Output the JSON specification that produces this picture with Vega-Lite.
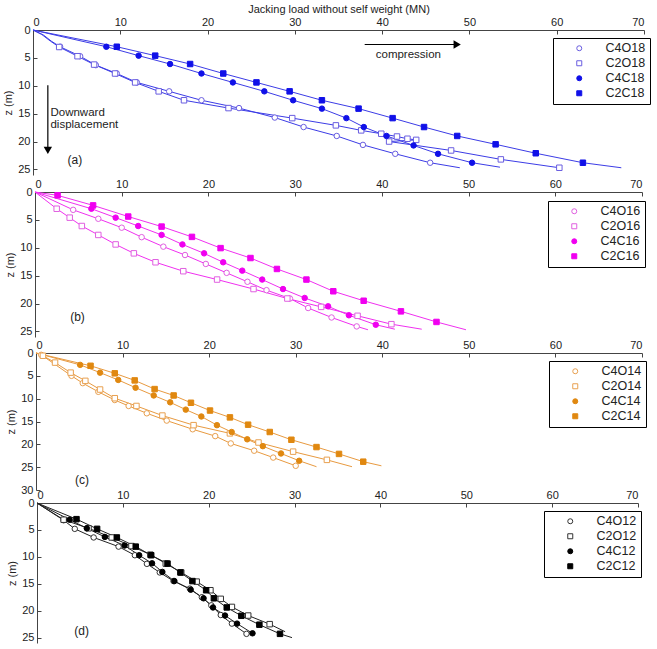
{
"$schema": "https://vega.github.io/schema/vega-lite/v6.json",
"autosize": {"type": "none"},
"width": 612, "height": 613,
"padding": {"left": 33, "top": 30, "right": 12, "bottom": 6},
"background": "white",
"config": {
  "font": "Liberation Sans",
  "view": {"stroke": null},
  "axis": {"grid": false, "labelFontSize": 11, "labelColor": "#222", "domainColor": "#444", "tickColor": "#444", "tickSize": -4, "labelPadding": 7, "labelOverlap": false, "titleFontSize": 11, "titleFontWeight": "normal", "titleColor": "#222"},
  "legend": {"orient": "none", "strokeColor": "black", "strokeWidth": 1, "fillColor": "white", "padding": 4, "labelFont": "Liberation Sans Narrow, Liberation Sans", "labelFontSize": 12.5, "symbolSize": 25, "symbolStrokeWidth": 1, "rowPadding": 2, "labelOffset": 20, "symbolOffset": 16, "labelColor": "#222"}
},
"datasets": {
  "a": [
    {"s":"C4O18","x":0,"z":0,"m":0},{"s":"C4O18","x":1.2,"z":0.9,"m":0},{"s":"C4O18","x":2.1,"z":2.0,"m":0},
    {"s":"C4O18","x":3.1,"z":3.0,"m":1},{"s":"C4O18","x":5.4,"z":4.7,"m":1},{"s":"C4O18","x":7.2,"z":6.3,"m":1},{"s":"C4O18","x":9.6,"z":7.8,"m":1},{"s":"C4O18","x":11.9,"z":9.4,"m":1},{"s":"C4O18","x":15.6,"z":11.0,"m":1},{"s":"C4O18","x":19.3,"z":12.6,"m":1},{"s":"C4O18","x":23.6,"z":14.0,"m":1},{"s":"C4O18","x":27.7,"z":15.7,"m":1},{"s":"C4O18","x":31.0,"z":17.4,"m":1},{"s":"C4O18","x":34.8,"z":19.0,"m":1},{"s":"C4O18","x":37.8,"z":20.6,"m":1},{"s":"C4O18","x":41.5,"z":22.2,"m":1},{"s":"C4O18","x":45.5,"z":23.8,"m":1},{"s":"C4O18","x":48.9,"z":24.7,"m":0},
    {"s":"C2O18","x":0,"z":0,"m":0},{"s":"C2O18","x":1.0,"z":0.8,"m":0},{"s":"C2O18","x":2.0,"z":2.0,"m":0},
    {"s":"C2O18","x":3.0,"z":3.05,"m":1},{"s":"C2O18","x":5.1,"z":4.7,"m":1},{"s":"C2O18","x":7.0,"z":6.2,"m":1},{"s":"C2O18","x":9.4,"z":7.8,"m":1},{"s":"C2O18","x":11.7,"z":9.4,"m":1},{"s":"C2O18","x":14.4,"z":11.0,"m":1},{"s":"C2O18","x":17.3,"z":12.6,"m":1},{"s":"C2O18","x":22.4,"z":14.0,"m":1},{"s":"C2O18","x":29.7,"z":15.8,"m":1},{"s":"C2O18","x":34.7,"z":17.1,"m":1},{"s":"C2O18","x":37.6,"z":18.0,"m":1},{"s":"C2O18","x":39.9,"z":18.6,"m":1},{"s":"C2O18","x":41.7,"z":19.1,"m":1},{"s":"C2O18","x":42.9,"z":19.5,"m":1},{"s":"C2O18","x":43.9,"z":19.7,"m":1},{"s":"C2O18","x":40.8,"z":20.0,"m":1},{"s":"C2O18","x":47.9,"z":21.6,"m":1},{"s":"C2O18","x":53.6,"z":23.2,"m":1},{"s":"C2O18","x":60.3,"z":24.7,"m":1},
    {"s":"C4C18","x":0,"z":0,"m":0},
    {"s":"C4C18","x":8.4,"z":3.0,"m":1},{"s":"C4C18","x":12.1,"z":4.6,"m":1},{"s":"C4C18","x":15.7,"z":6.1,"m":1},{"s":"C4C18","x":19.3,"z":7.8,"m":1},{"s":"C4C18","x":22.9,"z":9.4,"m":1},{"s":"C4C18","x":26.5,"z":11.0,"m":1},{"s":"C4C18","x":29.8,"z":12.6,"m":1},{"s":"C4C18","x":33.1,"z":14.1,"m":1},{"s":"C4C18","x":35.9,"z":15.8,"m":1},{"s":"C4C18","x":37.9,"z":17.4,"m":1},{"s":"C4C18","x":40.5,"z":19.0,"m":1},{"s":"C4C18","x":43.6,"z":20.7,"m":1},{"s":"C4C18","x":46.4,"z":22.2,"m":1},{"s":"C4C18","x":50.3,"z":23.8,"m":1},{"s":"C4C18","x":53.5,"z":24.6,"m":0},
    {"s":"C2C18","x":0,"z":0,"m":0},
    {"s":"C2C18","x":9.6,"z":3.0,"m":1},{"s":"C2C18","x":14.0,"z":4.6,"m":1},{"s":"C2C18","x":18.0,"z":6.1,"m":1},{"s":"C2C18","x":21.8,"z":7.8,"m":1},{"s":"C2C18","x":25.6,"z":9.4,"m":1},{"s":"C2C18","x":29.4,"z":11.0,"m":1},{"s":"C2C18","x":33.1,"z":12.6,"m":1},{"s":"C2C18","x":37.3,"z":14.1,"m":1},{"s":"C2C18","x":41.2,"z":15.8,"m":1},{"s":"C2C18","x":44.8,"z":17.4,"m":1},{"s":"C2C18","x":48.6,"z":19.0,"m":1},{"s":"C2C18","x":53.0,"z":20.5,"m":1},{"s":"C2C18","x":57.6,"z":22.1,"m":1},{"s":"C2C18","x":63.0,"z":23.8,"m":1},{"s":"C2C18","x":67.4,"z":24.7,"m":0}
  ],
  "b": [
    {"s":"C4O16","x":0,"z":0,"m":0},
    {"s":"C4O16","x":4.4,"z":3.2,"m":1},{"s":"C4O16","x":7.3,"z":4.8,"m":1},{"s":"C4O16","x":10.0,"z":6.4,"m":1},{"s":"C4O16","x":12.3,"z":8.1,"m":1},{"s":"C4O16","x":14.8,"z":9.8,"m":1},{"s":"C4O16","x":17.3,"z":11.3,"m":1},{"s":"C4O16","x":19.7,"z":12.9,"m":1},{"s":"C4O16","x":22.1,"z":14.5,"m":1},{"s":"C4O16","x":24.5,"z":16.1,"m":1},{"s":"C4O16","x":26.7,"z":17.6,"m":1},{"s":"C4O16","x":29.4,"z":19.1,"m":1},{"s":"C4O16","x":31.5,"z":20.8,"m":1},{"s":"C4O16","x":34.2,"z":22.5,"m":1},{"s":"C4O16","x":37.1,"z":24.1,"m":1},{"s":"C4O16","x":38.4,"z":24.7,"m":0},
    {"s":"C2O16","x":0,"z":0,"m":0},
    {"s":"C2O16","x":2.5,"z":3.0,"m":1},{"s":"C2O16","x":4.0,"z":4.6,"m":1},{"s":"C2O16","x":5.4,"z":6.1,"m":1},{"s":"C2O16","x":7.3,"z":7.7,"m":1},{"s":"C2O16","x":9.3,"z":9.4,"m":1},{"s":"C2O16","x":11.4,"z":11.0,"m":1},{"s":"C2O16","x":13.9,"z":12.6,"m":1},{"s":"C2O16","x":17.1,"z":14.2,"m":1},{"s":"C2O16","x":21.0,"z":15.7,"m":1},{"s":"C2O16","x":25.2,"z":17.4,"m":1},{"s":"C2O16","x":29.1,"z":19.1,"m":1},{"s":"C2O16","x":33.0,"z":20.6,"m":1},{"s":"C2O16","x":37.2,"z":22.2,"m":1},{"s":"C2O16","x":41.1,"z":23.7,"m":1},{"s":"C2O16","x":44.6,"z":24.6,"m":0},
    {"s":"C4C16","x":0,"z":0,"m":0},
    {"s":"C4C16","x":6.5,"z":3.0,"m":1},{"s":"C4C16","x":9.3,"z":4.6,"m":1},{"s":"C4C16","x":11.9,"z":6.1,"m":1},{"s":"C4C16","x":14.6,"z":7.7,"m":1},{"s":"C4C16","x":17.0,"z":9.4,"m":1},{"s":"C4C16","x":19.5,"z":11.0,"m":1},{"s":"C4C16","x":21.7,"z":12.6,"m":1},{"s":"C4C16","x":23.9,"z":14.1,"m":1},{"s":"C4C16","x":26.2,"z":15.7,"m":1},{"s":"C4C16","x":28.6,"z":17.4,"m":1},{"s":"C4C16","x":31.1,"z":19.0,"m":1},{"s":"C4C16","x":33.8,"z":20.5,"m":1},{"s":"C4C16","x":36.2,"z":22.1,"m":1},{"s":"C4C16","x":39.3,"z":23.8,"m":1},{"s":"C4C16","x":41.5,"z":24.6,"m":0},
    {"s":"C2C16","x":0,"z":0,"m":0},
    {"s":"C2C16","x":2.6,"z":0.6,"m":1},{"s":"C2C16","x":6.7,"z":2.4,"m":1},{"s":"C2C16","x":10.75,"z":4.4,"m":1},{"s":"C2C16","x":14.6,"z":6.2,"m":1},{"s":"C2C16","x":18.1,"z":8.05,"m":1},{"s":"C2C16","x":21.4,"z":10.06,"m":1},{"s":"C2C16","x":24.85,"z":11.84,"m":1},{"s":"C2C16","x":27.9,"z":13.8,"m":1},{"s":"C2C16","x":31.3,"z":15.7,"m":1},{"s":"C2C16","x":34.4,"z":17.8,"m":1},{"s":"C2C16","x":37.9,"z":19.5,"m":1},{"s":"C2C16","x":42.2,"z":21.4,"m":1},{"s":"C2C16","x":46.3,"z":23.3,"m":1},{"s":"C2C16","x":49.7,"z":24.7,"m":0}
  ],
  "c": [
    {"s":"C4O14","x":0,"z":0,"m":0},
    {"s":"C4O14","x":0.6,"z":0.4,"m":1},{"s":"C4O14","x":4.1,"z":5.0,"m":1},{"s":"C4O14","x":5.4,"z":6.6,"m":1},{"s":"C4O14","x":7.2,"z":8.5,"m":1},{"s":"C4O14","x":9.1,"z":10.3,"m":1},{"s":"C4O14","x":10.7,"z":11.6,"m":1},{"s":"C4O14","x":12.8,"z":13.2,"m":1},{"s":"C4O14","x":15.1,"z":14.8,"m":1},{"s":"C4O14","x":18.1,"z":16.7,"m":1},{"s":"C4O14","x":20.7,"z":18.2,"m":1},{"s":"C4O14","x":22.5,"z":19.8,"m":1},{"s":"C4O14","x":25.2,"z":21.4,"m":1},{"s":"C4O14","x":27.4,"z":22.9,"m":1},{"s":"C4O14","x":30.0,"z":24.7,"m":1},
    {"s":"C2O14","x":0,"z":0,"m":0},
    {"s":"C2O14","x":0.8,"z":0.6,"m":1},{"s":"C2O14","x":2.2,"z":2.1,"m":1},{"s":"C2O14","x":4.0,"z":4.3,"m":1},{"s":"C2O14","x":5.7,"z":6.1,"m":1},{"s":"C2O14","x":7.4,"z":8.0,"m":1},{"s":"C2O14","x":9.1,"z":9.9,"m":1},{"s":"C2O14","x":11.6,"z":11.6,"m":1},{"s":"C2O14","x":14.6,"z":13.7,"m":1},{"s":"C2O14","x":18.2,"z":15.8,"m":1},{"s":"C2O14","x":22.4,"z":17.6,"m":1},{"s":"C2O14","x":25.7,"z":19.6,"m":1},{"s":"C2O14","x":29.7,"z":21.6,"m":1},{"s":"C2O14","x":33.6,"z":23.4,"m":1},{"s":"C2O14","x":36.5,"z":24.9,"m":0},
    {"s":"C4C14","x":0,"z":0,"m":0},
    {"s":"C4C14","x":5.1,"z":2.6,"m":1},{"s":"C4C14","x":7.4,"z":4.3,"m":1},{"s":"C4C14","x":9.5,"z":5.9,"m":1},{"s":"C4C14","x":11.5,"z":7.6,"m":1},{"s":"C4C14","x":13.6,"z":9.3,"m":1},{"s":"C4C14","x":15.5,"z":10.8,"m":1},{"s":"C4C14","x":17.3,"z":12.4,"m":1},{"s":"C4C14","x":19.1,"z":13.9,"m":1},{"s":"C4C14","x":20.9,"z":15.8,"m":1},{"s":"C4C14","x":22.6,"z":17.3,"m":1},{"s":"C4C14","x":24.4,"z":18.9,"m":1},{"s":"C4C14","x":26.2,"z":20.4,"m":1},{"s":"C4C14","x":28.3,"z":22.0,"m":1},{"s":"C4C14","x":30.4,"z":23.6,"m":1},{"s":"C4C14","x":32.4,"z":24.9,"m":0},
    {"s":"C2C14","x":0,"z":0,"m":0},
    {"s":"C2C14","x":6.3,"z":2.8,"m":1},{"s":"C2C14","x":9.1,"z":4.45,"m":1},{"s":"C2C14","x":11.4,"z":6.0,"m":1},{"s":"C2C14","x":13.7,"z":7.9,"m":1},{"s":"C2C14","x":15.9,"z":9.3,"m":1},{"s":"C2C14","x":17.9,"z":10.9,"m":1},{"s":"C2C14","x":20.1,"z":12.6,"m":1},{"s":"C2C14","x":22.4,"z":14.1,"m":1},{"s":"C2C14","x":24.5,"z":15.7,"m":1},{"s":"C2C14","x":27.0,"z":17.3,"m":1},{"s":"C2C14","x":29.5,"z":19.0,"m":1},{"s":"C2C14","x":32.4,"z":20.6,"m":1},{"s":"C2C14","x":35.0,"z":22.1,"m":1},{"s":"C2C14","x":37.8,"z":23.8,"m":1},{"s":"C2C14","x":39.9,"z":24.7,"m":0}
  ],
  "d": [
    {"s":"C4O12","x":0,"z":0,"m":0},
    {"s":"C4O12","x":3.1,"z":3.2,"m":1},{"s":"C4O12","x":4.4,"z":4.8,"m":1},{"s":"C4O12","x":6.6,"z":6.4,"m":1},{"s":"C4O12","x":9.5,"z":8.1,"m":1},{"s":"C4O12","x":11.4,"z":9.7,"m":1},{"s":"C4O12","x":12.8,"z":11.3,"m":1},{"s":"C4O12","x":14.3,"z":12.9,"m":1},{"s":"C4O12","x":15.9,"z":14.5,"m":1},{"s":"C4O12","x":17.8,"z":15.9,"m":1},{"s":"C4O12","x":19.2,"z":17.5,"m":1},{"s":"C4O12","x":20.3,"z":19.0,"m":1},{"s":"C4O12","x":21.4,"z":20.8,"m":1},{"s":"C4O12","x":22.7,"z":22.4,"m":1},{"s":"C4O12","x":24.4,"z":24.3,"m":1},
    {"s":"C2O12","x":0,"z":0,"m":0},
    {"s":"C2O12","x":3.1,"z":3.1,"m":1},{"s":"C2O12","x":6.0,"z":4.7,"m":1},{"s":"C2O12","x":8.7,"z":6.4,"m":1},{"s":"C2O12","x":11.0,"z":8.0,"m":1},{"s":"C2O12","x":13.2,"z":9.6,"m":1},{"s":"C2O12","x":15.0,"z":11.25,"m":1},{"s":"C2O12","x":16.8,"z":12.9,"m":1},{"s":"C2O12","x":18.6,"z":14.6,"m":1},{"s":"C2O12","x":20.2,"z":16.2,"m":1},{"s":"C2O12","x":21.4,"z":17.8,"m":1},{"s":"C2O12","x":22.7,"z":19.3,"m":1},{"s":"C2O12","x":24.6,"z":20.9,"m":1},{"s":"C2O12","x":27.1,"z":22.5,"m":1},{"s":"C2O12","x":28.9,"z":23.9,"m":0},
    {"s":"C4C12","x":0,"z":0,"m":0},
    {"s":"C4C12","x":3.8,"z":3.1,"m":1},{"s":"C4C12","x":5.8,"z":4.7,"m":1},{"s":"C4C12","x":7.9,"z":6.3,"m":1},{"s":"C4C12","x":10.2,"z":7.9,"m":1},{"s":"C4C12","x":11.9,"z":9.7,"m":1},{"s":"C4C12","x":13.4,"z":11.2,"m":1},{"s":"C4C12","x":14.6,"z":12.8,"m":1},{"s":"C4C12","x":16.0,"z":14.5,"m":1},{"s":"C4C12","x":17.9,"z":16.1,"m":1},{"s":"C4C12","x":19.4,"z":17.7,"m":1},{"s":"C4C12","x":20.5,"z":19.4,"m":1},{"s":"C4C12","x":21.9,"z":20.9,"m":1},{"s":"C4C12","x":23.3,"z":22.4,"m":1},{"s":"C4C12","x":25.1,"z":24.2,"m":1},
    {"s":"C2C12","x":0,"z":0,"m":0},
    {"s":"C2C12","x":4.6,"z":3.0,"m":1},{"s":"C2C12","x":7.0,"z":4.8,"m":1},{"s":"C2C12","x":9.3,"z":6.4,"m":1},{"s":"C2C12","x":11.5,"z":8.1,"m":1},{"s":"C2C12","x":13.3,"z":9.7,"m":1},{"s":"C2C12","x":15.2,"z":11.25,"m":1},{"s":"C2C12","x":16.7,"z":12.9,"m":1},{"s":"C2C12","x":18.1,"z":14.5,"m":1},{"s":"C2C12","x":19.7,"z":16.2,"m":1},{"s":"C2C12","x":20.6,"z":17.7,"m":1},{"s":"C2C12","x":22.1,"z":19.4,"m":1},{"s":"C2C12","x":23.8,"z":20.95,"m":1},{"s":"C2C12","x":25.9,"z":22.6,"m":1},{"s":"C2C12","x":28.3,"z":24.3,"m":1},{"s":"C2C12","x":29.7,"z":25.0,"m":0}
  ]
},
"resolve": {"scale": {"x": "independent", "y": "independent", "shape": "independent", "fill": "independent", "stroke": "independent"}, "axis": {"x": "independent", "y": "independent"}, "legend": {"shape": "independent", "fill": "independent", "stroke": "independent"}},
"layer": [
  {
    "layer": [
      {"data": {"name": "a"}, "mark": {"type": "line", "color": "#3c3ce6", "strokeWidth": 1},
       "encoding": {
         "x": {"field": "x", "type": "quantitative", "scale": {"domain": [0, 70], "range": [0, 611]}, "axis": {"orient": "top", "values": [0,10,20,30,40,50,60,70], "title": "Jacking load without self weight (MN)", "titlePadding": 2, "labelOverlap": false}},
         "y": {"field": "z", "type": "quantitative", "scale": {"domain": [0, 25], "range": [0, 145]}, "axis": {"orient": "left", "values": [0,5,10,15,20,25], "title": "z (m)", "titlePadding": 4, "labelOverlap": false}},
         "detail": {"field": "s"}, "order": {"field": "z"}}},
      {"data": {"name": "a"}, "transform": [{"filter": "datum.m == 1"}], "mark": {"type": "point", "size": 30, "strokeWidth": 1, "opacity": 1},
       "encoding": {
         "x": {"field": "x", "type": "quantitative"},
         "y": {"field": "z", "type": "quantitative"},
         "shape": {"field": "s", "type": "nominal", "scale": {"domain": ["C4O18","C2O18","C4C18","C2C18"], "range": ["circle","square","circle","square"]}, "legend": {"title": null, "orient": "none", "legendX": 520, "legendY": 8}},
         "fill": {"field": "s", "type": "nominal", "scale": {"domain": ["C4O18","C2O18","C4C18","C2C18"], "range": ["white","white","#1010e8","#1010e8"]}, "legend": {"title": null, "orient": "none", "legendX": 520, "legendY": 8}},
         "stroke": {"field": "s", "type": "nominal", "scale": {"domain": ["C4O18","C2O18","C4C18","C2C18"], "range": ["#6a5ee0","#6a5ee0","#1010e8","#1010e8"]}, "legend": {"title": null, "orient": "none", "legendX": 520, "legendY": 8}}}},
      {"data": {"values": [{"x1": 38.0, "x2": 48.5, "z": 2.6}]}, "mark": {"type": "rule", "color": "black", "strokeWidth": 1.2},
       "encoding": {"x": {"field": "x1", "type": "quantitative"}, "x2": {"field": "x2"}, "y": {"field": "z", "type": "quantitative"}}},
      {"data": {"values": [{"x": 48.6, "z": 2.6}]}, "mark": {"type": "point", "shape": "triangle-right", "filled": true, "color": "black", "size": 70, "opacity": 1},
       "encoding": {"x": {"field": "x", "type": "quantitative"}, "y": {"field": "z", "type": "quantitative"}}},
      {"data": {"values": [{"x": 1.7, "z1": 9.9, "z2": 21.5}]}, "mark": {"type": "rule", "color": "black", "strokeWidth": 1.2},
       "encoding": {"x": {"field": "x", "type": "quantitative"}, "y": {"field": "z1", "type": "quantitative"}, "y2": {"field": "z2"}}},
      {"data": {"values": [{"x": 1.7, "z": 21.6}]}, "mark": {"type": "point", "shape": "triangle-down", "filled": true, "color": "black", "size": 70, "opacity": 1},
       "encoding": {"x": {"field": "x", "type": "quantitative"}, "y": {"field": "z", "type": "quantitative"}}},
      {"data": {"values": [{"t": "compression", "x": 43.0, "z": 4.5}]}, "mark": {"type": "text", "fontSize": 11.5, "align": "center", "baseline": "middle", "color": "#222"},
       "encoding": {"x": {"field": "x", "type": "quantitative"}, "y": {"field": "z", "type": "quantitative"}, "text": {"field": "t"}}},
      {"data": {"values": [{"t": "Downward", "x": 2.0, "z": 14.9}, {"t": "displacement", "x": 2.0, "z": 17.1}]}, "mark": {"type": "text", "fontSize": 11.5, "align": "left", "baseline": "middle", "color": "#222"},
       "encoding": {"x": {"field": "x", "type": "quantitative"}, "y": {"field": "z", "type": "quantitative"}, "text": {"field": "t"}}},
      {"data": {"values": [{"t": "(a)", "x": 4.8, "z": 23.3}]}, "mark": {"type": "text", "fontSize": 12, "align": "center", "baseline": "middle", "color": "#222"},
       "encoding": {"x": {"field": "x", "type": "quantitative"}, "y": {"field": "z", "type": "quantitative"}, "text": {"field": "t"}}}
    ]
  },
  {
    "layer": [
      {"data": {"name": "b"}, "mark": {"type": "line", "color": "#f030f0", "strokeWidth": 1},
       "encoding": {
         "x": {"field": "x", "type": "quantitative", "scale": {"domain": [0, 70], "range": [2, 609]}, "axis": {"orient": "top", "offset": -162, "values": [0,10,20,30,40,50,60,70], "title": null, "labelOverlap": false}},
         "y": {"field": "z", "type": "quantitative", "scale": {"domain": [0, 25], "range": [162, 307]}, "axis": {"orient": "left", "offset": -2, "values": [0,5,10,15,20,25], "title": "z (m)", "titlePadding": 4, "labelOverlap": false}},
         "detail": {"field": "s"}, "order": {"field": "z"}}},
      {"data": {"name": "b"}, "transform": [{"filter": "datum.m == 1"}], "mark": {"type": "point", "size": 30, "strokeWidth": 1, "opacity": 1},
       "encoding": {
         "x": {"field": "x", "type": "quantitative"},
         "y": {"field": "z", "type": "quantitative"},
         "shape": {"field": "s", "type": "nominal", "scale": {"domain": ["C4O16","C2O16","C4C16","C2C16"], "range": ["circle","square","circle","square"]}, "legend": {"title": null, "orient": "none", "legendX": 515, "legendY": 171}},
         "fill": {"field": "s", "type": "nominal", "scale": {"domain": ["C4O16","C2O16","C4C16","C2C16"], "range": ["white","white","#f000f0","#f000f0"]}, "legend": {"title": null, "orient": "none", "legendX": 515, "legendY": 171}},
         "stroke": {"field": "s", "type": "nominal", "scale": {"domain": ["C4O16","C2O16","C4C16","C2C16"], "range": ["#e060e0","#e060e0","#f000f0","#f000f0"]}, "legend": {"title": null, "orient": "none", "legendX": 515, "legendY": 171}}}},
      {"data": {"values": [{"t": "(b)", "x": 4.9, "z": 22.5}]}, "mark": {"type": "text", "fontSize": 12, "align": "center", "baseline": "middle", "color": "#222"},
       "encoding": {"x": {"field": "x", "type": "quantitative"}, "y": {"field": "z", "type": "quantitative"}, "text": {"field": "t"}}}
    ]
  },
  {
    "layer": [
      {"data": {"name": "c"}, "mark": {"type": "line", "color": "#e89a40", "strokeWidth": 1},
       "encoding": {
         "x": {"field": "x", "type": "quantitative", "scale": {"domain": [0, 70], "range": [3, 609]}, "axis": {"orient": "top", "offset": -323, "values": [0,10,20,30,40,50,60,70], "title": null, "labelOverlap": false}},
         "y": {"field": "z", "type": "quantitative", "scale": {"domain": [0, 30], "range": [323, 460]}, "axis": {"orient": "left", "offset": -3, "values": [0,5,10,15,20,25,30], "title": "z (m)", "titlePadding": 4, "labelOverlap": false}},
         "detail": {"field": "s"}, "order": {"field": "z"}}},
      {"data": {"name": "c"}, "transform": [{"filter": "datum.m == 1"}], "mark": {"type": "point", "size": 30, "strokeWidth": 1, "opacity": 1},
       "encoding": {
         "x": {"field": "x", "type": "quantitative"},
         "y": {"field": "z", "type": "quantitative"},
         "shape": {"field": "s", "type": "nominal", "scale": {"domain": ["C4O14","C2O14","C4C14","C2C14"], "range": ["circle","square","circle","square"]}, "legend": {"title": null, "orient": "none", "legendX": 516, "legendY": 331}},
         "fill": {"field": "s", "type": "nominal", "scale": {"domain": ["C4O14","C2O14","C4C14","C2C14"], "range": ["white","white","#e08810","#e08810"]}, "legend": {"title": null, "orient": "none", "legendX": 516, "legendY": 331}},
         "stroke": {"field": "s", "type": "nominal", "scale": {"domain": ["C4O14","C2O14","C4C14","C2C14"], "range": ["#e8a050","#e8a050","#e08810","#e08810"]}, "legend": {"title": null, "orient": "none", "legendX": 516, "legendY": 331}}}},
      {"data": {"values": [{"t": "(c)", "x": 5.3, "z": 27.8}]}, "mark": {"type": "text", "fontSize": 12, "align": "center", "baseline": "middle", "color": "#222"},
       "encoding": {"x": {"field": "x", "type": "quantitative"}, "y": {"field": "z", "type": "quantitative"}, "text": {"field": "t"}}}
    ]
  },
  {
    "layer": [
      {"data": {"name": "d"}, "mark": {"type": "line", "color": "#222", "strokeWidth": 1},
       "encoding": {
         "x": {"field": "x", "type": "quantitative", "scale": {"domain": [0, 70], "range": [4, 605]}, "axis": {"orient": "top", "offset": -473, "values": [0,10,20,30,40,50,60,70], "title": null, "labelOverlap": false}},
         "y": {"field": "z", "type": "quantitative", "scale": {"domain": [0, 25], "range": [473, 613]}, "axis": {"orient": "left", "offset": -4, "values": [0,5,10,15,20,25], "title": "z (m)", "titlePadding": 4, "labelOverlap": false}},
         "detail": {"field": "s"}, "order": {"field": "z"}}},
      {"data": {"name": "d"}, "transform": [{"filter": "datum.m == 1"}], "mark": {"type": "point", "size": 30, "strokeWidth": 1, "opacity": 1},
       "encoding": {
         "x": {"field": "x", "type": "quantitative"},
         "y": {"field": "z", "type": "quantitative"},
         "shape": {"field": "s", "type": "nominal", "scale": {"domain": ["C4O12","C2O12","C4C12","C2C12"], "range": ["circle","square","circle","square"]}, "legend": {"title": null, "orient": "none", "legendX": 511, "legendY": 481}},
         "fill": {"field": "s", "type": "nominal", "scale": {"domain": ["C4O12","C2O12","C4C12","C2C12"], "range": ["white","white","#000000","#000000"]}, "legend": {"title": null, "orient": "none", "legendX": 511, "legendY": 481}},
         "stroke": {"field": "s", "type": "nominal", "scale": {"domain": ["C4O12","C2O12","C4C12","C2C12"], "range": ["#333333","#333333","#000000","#000000"]}, "legend": {"title": null, "orient": "none", "legendX": 511, "legendY": 481}}}},
      {"data": {"values": [{"t": "(d)", "x": 5.2, "z": 23.7}]}, "mark": {"type": "text", "fontSize": 12, "align": "center", "baseline": "middle", "color": "#222"},
       "encoding": {"x": {"field": "x", "type": "quantitative"}, "y": {"field": "z", "type": "quantitative"}, "text": {"field": "t"}}}
    ]
  }
]
}
